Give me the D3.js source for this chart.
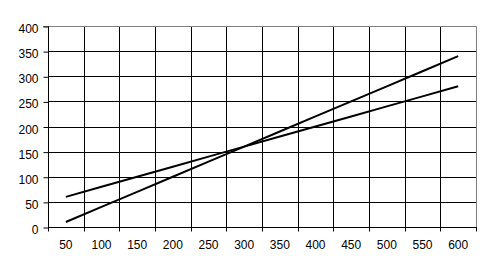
<!DOCTYPE html>
<html>
<head>
<meta charset="utf-8">
<script src="https://cdn.jsdelivr.net/npm/d3@7"></script>
<style>
  body { margin: 0; background: #fff; }
  svg { display: block; }
  text { font-family: "Liberation Sans", Arial, sans-serif; font-size: 12px; fill: #000; }
</style>
</head>
<body>
<div id="chart"></div>
<script>
const categories = [50, 100, 150, 200, 250, 300, 350, 400, 450, 500, 550, 600];
const seriesA = [60, 80, 100, 120, 140, 160, 180, 200, 220, 240, 260, 280];
const seriesB = [10, 40, 70, 100, 130, 160, 190, 220, 250, 280, 310, 340];
const yTicks = [0, 50, 100, 150, 200, 250, 300, 350, 400];

const width = 491, height = 273;
const plot = { left: 48, right: 476, top: 26, bottom: 227 };

const svg = d3.select('#chart').append('svg')
  .attr('width', width)
  .attr('height', height);

const x = d3.scaleBand()
  .domain(categories)
  .range([plot.left, plot.right])
  .padding(0);

const y = d3.scaleLinear()
  .domain([0, 400])
  .range([plot.bottom, plot.top]);

const px = v => Math.round(v) + 0.5;

// horizontal gridlines
svg.append('g')
  .selectAll('line')
  .data(yTicks.filter(d => d > 0 && d < 400))
  .enter()
  .append('line')
  .attr('x1', plot.left).attr('x2', plot.right)
  .attr('y1', d => px(y(d))).attr('y2', d => px(y(d)))
  .attr('stroke', '#000');

// vertical gridlines at category boundaries
svg.append('g')
  .selectAll('line')
  .data(categories.slice(1))
  .enter()
  .append('line')
  .attr('x1', d => px(x(d))).attr('x2', d => px(x(d)))
  .attr('y1', y(400)).attr('y2', y(0))
  .attr('stroke', '#000');

// plot border (top & right grey)
svg.append('path')
  .attr('d', `M${plot.left - 5},${px(y(400))}H${px(plot.right)}V${px(y(0))}`)
  .attr('fill', 'none')
  .attr('stroke', '#808080');

// y axis
const yAxis = d3.axisLeft(y)
  .tickValues(yTicks)
  .tickSize(5)
  .tickPadding(5);
const gy = svg.append('g')
  .attr('transform', `translate(${px(plot.left)},0.5)`)
  .call(yAxis);
gy.select('.domain').attr('d', `M0,${Math.round(y(400))}V${Math.round(y(0))}`).attr('stroke', '#000');
gy.selectAll('.tick line').attr('stroke', '#000');
gy.selectAll('text')
  .attr('dy', '0.5em')
  .style('font-size', '12px')
  .style('font-family', '"Liberation Sans", Arial, sans-serif');
gy.attr('font-size', null).attr('font-family', null);

// x axis (ticks at category boundaries)
const gx = svg.append('g')
  .attr('transform', `translate(0,${px(y(0))})`);
gx.append('line')
  .attr('x1', plot.left).attr('x2', plot.right + 1)
  .attr('stroke', '#000');
gx.selectAll('.tick')
  .data(categories.concat(['end']))
  .enter()
  .append('line')
  .attr('x1', d => d === 'end' ? px(plot.right) : px(x(d)))
  .attr('x2', d => d === 'end' ? px(plot.right) : px(x(d)))
  .attr('y1', 0).attr('y2', 4)
  .attr('stroke', '#000');
gx.selectAll('.label')
  .data(categories)
  .enter()
  .append('text')
  .attr('x', d => x(d) + x.bandwidth() / 2)
  .attr('y', 21)
  .attr('text-anchor', 'middle')
  .text(d => d);

// series lines
const line = d3.line()
  .x((d, i) => x(categories[i]) + x.bandwidth() / 2)
  .y(d => y(d));

[seriesA, seriesB].forEach(s => {
  svg.append('path')
    .datum(s)
    .attr('d', line)
    .attr('fill', 'none')
    .attr('stroke', '#000')
    .attr('stroke-width', 2);
});
</script>
</body>
</html>
